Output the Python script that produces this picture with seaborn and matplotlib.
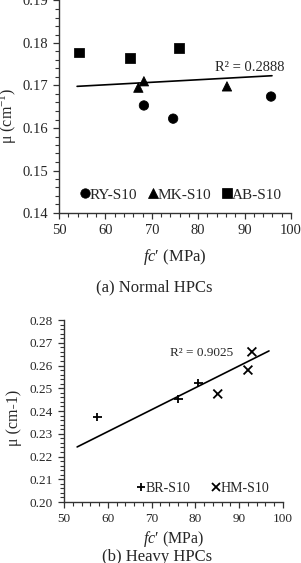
import numpy as np
import pandas as pd
import seaborn as sns
import matplotlib.pyplot as plt
from matplotlib.ticker import MultipleLocator

# panel (a) normal HPCs
ry_fc = [68.3, 74.6, 95.7]
ry_mu = [0.1653, 0.1622, 0.1674]
mk_fc = [67.1, 68.3, 86.2]
mk_mu = [0.1695, 0.1710, 0.1698]
ab_fc = [54.3, 65.3, 75.9]
ab_mu = [0.1777, 0.1765, 0.1788]
trend_a_fc = [53.9, 95.9]
trend_a_mu = [0.1698, 0.1723]

# panel (b) heavy HPCs
br_fc = [57.6, 76.1, 80.7]
br_mu = [0.2374, 0.2453, 0.2523]
hm_fc = [85.1, 92.0, 92.9]
hm_mu = [0.2475, 0.2580, 0.2660]
trend_b_fc = [53.0, 96.8]
trend_b_mu = [0.2242, 0.2664]

sns.set_theme(style="ticks")
plt.rcParams['font.family'] = ['Liberation Serif', 'DejaVu Serif']
plt.rcParams['mathtext.fontset'] = 'custom'
plt.rcParams['mathtext.rm'] = 'Liberation Serif'
plt.rcParams['mathtext.it'] = 'Liberation Serif:italic'

fig = plt.figure(figsize=(3.01, 5.63), dpi=100)
W, H = 301, 563
ax1 = fig.add_axes([59 / W, 1 - 213 / H, 232 / W, 212.5 / H])
ax2 = fig.add_axes([64 / W, 1 - 502 / H, 219 / W, 182 / H])

df_a = pd.DataFrame({
    'fc': ry_fc + mk_fc + ab_fc,
    'mu': ry_mu + mk_mu + ab_mu,
    'mix': ['RY-S10'] * 3 + ['MK-S10'] * 3 + ['AB-S10'] * 3,
})
sns.scatterplot(data=df_a, x='fc', y='mu', style='mix',
                markers={'RY-S10': 'o', 'MK-S10': '^', 'AB-S10': 's'},
                color='black', s=46, edgecolor='black', ax=ax1)
ax1.plot(trend_a_fc, trend_a_mu, color='black', lw=1.2)

df_b = pd.DataFrame({
    'fc': br_fc + hm_fc,
    'mu': br_mu + hm_mu,
    'mix': ['BR-S10'] * 3 + ['HM-S10'] * 3,
})
sns.scatterplot(data=df_b, x='fc', y='mu', style='mix',
                markers={'BR-S10': '+', 'HM-S10': 'x'},
                color='black', s=40, linewidth=1.3, ax=ax2)
ax2.plot(trend_b_fc, trend_b_mu, color='black', lw=1.2)

for ax, lo, hi, fs in [(ax1, 0.14, 0.19, 10.5), (ax2, 0.20, 0.28, 9.5)]:
    ax.set_xlim(50, 100)
    ax.set_ylim(lo, hi)
    ax.xaxis.set_major_locator(MultipleLocator(10))
    ax.xaxis.set_minor_locator(MultipleLocator(2))
    ax.yaxis.set_major_locator(MultipleLocator(0.01))
    ax.yaxis.set_minor_locator(MultipleLocator(0.002))
    ax.yaxis.set_major_formatter(plt.FormatStrFormatter('%.2f'))
    ax.tick_params(which='major', length=4, width=0.9, color='#333333',
                   labelsize=fs, pad=4)
    ax.tick_params(which='minor', length=3, width=0.8, color='#333333')
    for sp in ['top', 'right']:
        ax.spines[sp].set_visible(False)
    for sp in ['left', 'bottom']:
        ax.spines[sp].set_color('#333333')
        ax.spines[sp].set_linewidth(1.0)

ax1.set_xlabel("$\\mathit{fc}$′ (MPa)", fontsize=12, labelpad=7)
ax2.set_xlabel("$\\mathit{fc}$′ (MPa)", fontsize=11.5, labelpad=3)
ax1.set_ylabel(r"μ (cm$^{\mathregular{-1}}$)", fontsize=11.5)
ax2.set_ylabel("μ (cm-1)", fontsize=11.5)
ax1.yaxis.set_label_coords(-0.172, 0.46)
ax2.yaxis.set_label_coords(-0.19, 0.46)

ax1.text(0.672, 0.687, "R² = 0.2888", transform=ax1.transAxes,
         fontsize=10.5, va='center')
ax2.text(0.484, 0.819, "R² = 0.9025", transform=ax2.transAxes,
         fontsize=9.5, va='center')

ax1.legend(loc='lower center', bbox_to_anchor=(0.525, 0.01), ncol=3,
           frameon=False, fontsize=11, handlelength=0.6, handletextpad=0.0,
           columnspacing=0.75, borderaxespad=0.2)
ax2.legend(loc='lower center', bbox_to_anchor=(0.635, 0.0), ncol=2,
           frameon=False, fontsize=10, handlelength=0.6, handletextpad=0.05,
           columnspacing=1.5, borderaxespad=0.1)

fig.text(154 / W, 1 - 287 / H, "(a) Normal HPCs", ha='center', va='center',
         fontsize=12)
fig.text(157 / W, 1 - 557 / H, "(b) Heavy HPCs", ha='center', va='center',
         fontsize=12)

fig.savefig("out.png", dpi=100)
